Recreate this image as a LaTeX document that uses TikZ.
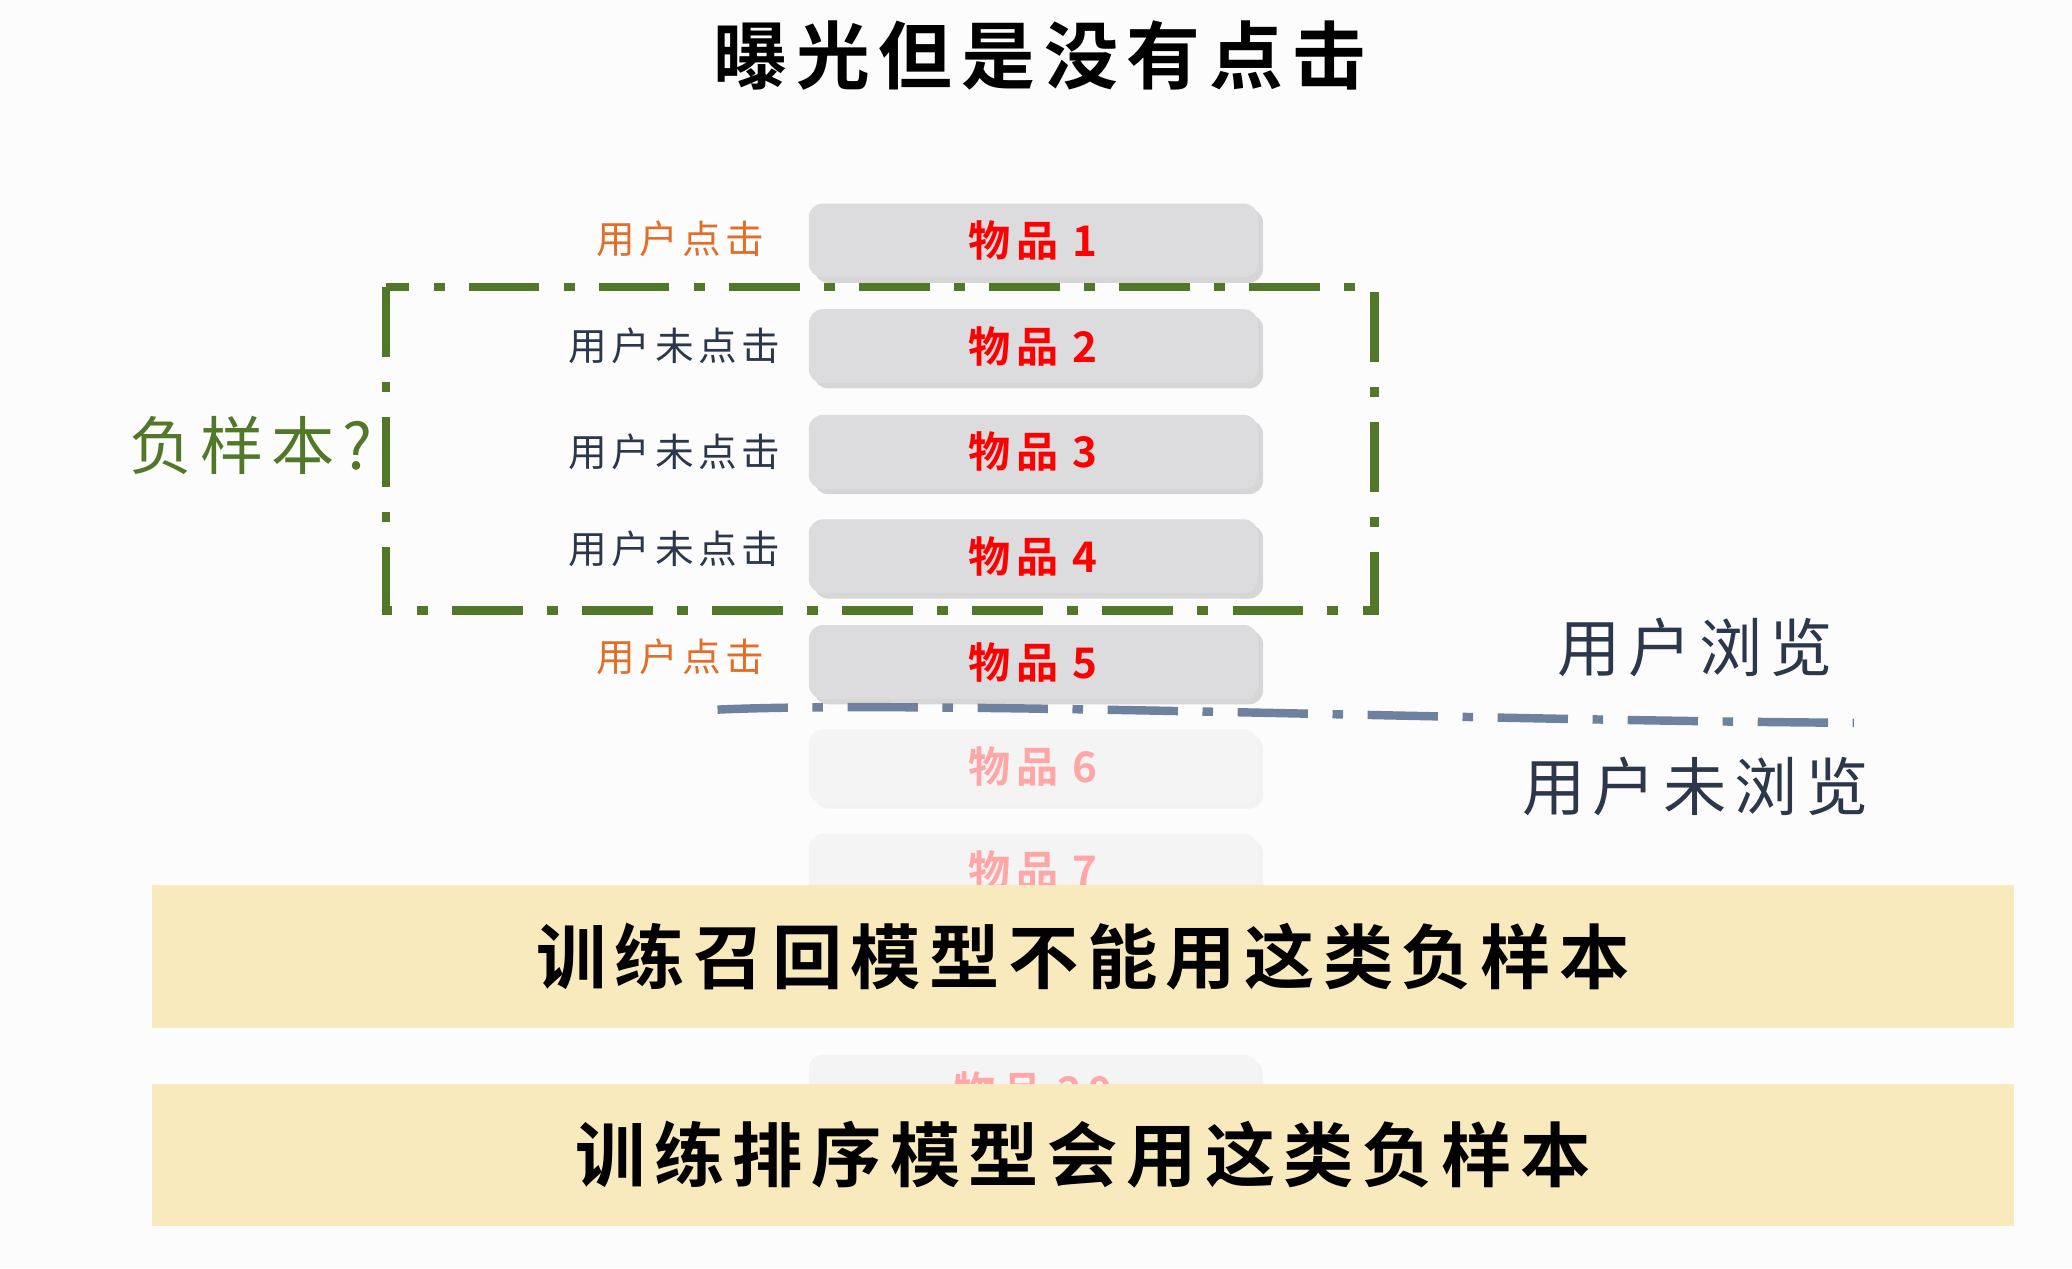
\documentclass[tikz,border=0pt]{standalone}
\usepackage{fontspec}
\newfontfamily\cjk[LetterSpace=12]{Noto Sans CJK SC}
\newfontfamily\cjkb[LetterSpace=12]{Noto Sans CJK SC Bold}
\usetikzlibrary{shadows}
\definecolor{itemgray}{RGB}{220,219,221}
\definecolor{clickorange}{RGB}{226,110,40}
\definecolor{slate}{RGB}{45,55,75}
\definecolor{neggreen}{RGB}{80,120,40}
\definecolor{browseblue}{RGB}{110,130,160}
\definecolor{band}{RGB}{249,234,190}
\tikzset{
  itembox/.style={fill=itemgray, rounded corners=4pt, minimum width=4.49cm, minimum height=0.74cm,
    drop shadow={shadow xshift=1.5pt, shadow yshift=-1.5pt, opacity=0.3}, font=\cjkb\fontsize{12}{14}\selectfont, text=red},
  faded/.style={fill=itemgray!30, rounded corners=4pt, minimum width=4.49cm, minimum height=0.74cm,
    drop shadow={shadow xshift=1.5pt, shadow yshift=-1.5pt, opacity=0.08}, font=\cjkb\fontsize{12}{14}\selectfont, text=red!35},
  clicklabel/.style={anchor=east, text=clickorange, font=\cjk\fontsize{11}{13}\selectfont},
  nolabel/.style={anchor=east, text=slate, font=\cjk\fontsize{11}{13}\selectfont},
  dashdot/.style={line width=2.4pt, dash pattern=on 20pt off 7pt on 3pt off 7pt},
  bandbox/.style={fill=band, minimum width=18.62cm, minimum height=1.427cm, font=\cjkb\fontsize{20}{24}\selectfont}
}
\begin{document}
\begin{tikzpicture}[x=0.013214cm, y=-0.013214cm]
  \useasboundingbox[fill=white!98!gray] (0,0) rectangle (1568,959.6);
  % title
  \node[font=\cjkb\fontsize{21}{25}\selectfont] (title) at (787,42) {曝光但是没有点击};
  % items
  \foreach \n/\y in {1/182,2/262,3/342,4/421,5/501}
    \node[itembox] (item\n) at (782,\y) {物品\ \n};
  \foreach \n/\y in {6/580,7/659,20/826}
    \node[faded] (item\n) at (782,\y) {物品\ \n};
  % labels
  \node[clicklabel] (lab1) at (588,181) {用户点击};
  \node[nolabel] (lab2) at (600,262) {用户未点击};
  \node[nolabel] (lab3) at (600,342) {用户未点击};
  \node[nolabel] (lab4) at (600,415) {用户未点击};
  \node[clicklabel] (lab5) at (588,497) {用户点击};
  % negative sample box
  \draw[dashdot, neggreen] (292,217) rectangle (1040,462);
  \node[text=neggreen, font=\cjk\fontsize{18}{22}\selectfont] (neg) at (190,337) {负样本?};
  % browse boundary
  \coordinate (bl) at (543,537);
  \coordinate (br) at (1403,547);
  \draw[dashdot, browseblue] (bl) .. controls (700,530) and (1100,545) .. (br);
  \node[text=slate, font=\cjk\fontsize{18}{22}\selectfont] (seen) at (1283,490) {用户浏览};
  \node[text=slate, font=\cjk\fontsize{18}{22}\selectfont] (unseen) at (1283,595) {用户未浏览};
  % bands
  \node[bandbox] (recall) at (819.5,724) {训练召回模型不能用这类负样本};
  \node[bandbox] (rank) at (819.5,874) {训练排序模型会用这类负样本};
\end{tikzpicture}
\end{document}
